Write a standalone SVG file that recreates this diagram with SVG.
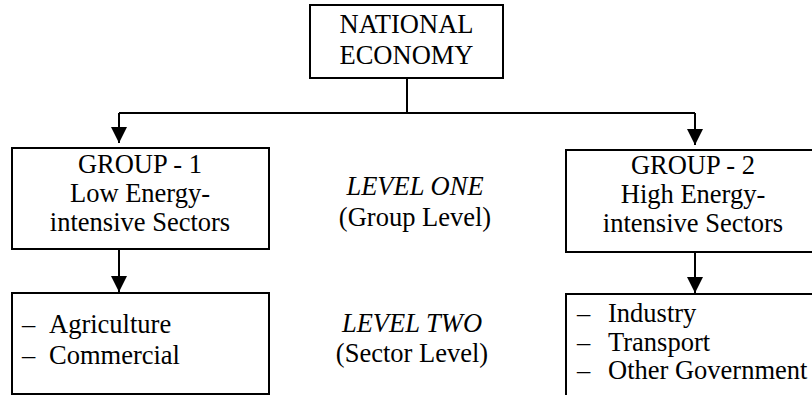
<svg xmlns="http://www.w3.org/2000/svg" width="812" height="395" viewBox="0 0 812 395">
<style>
.box{fill:#fff;stroke:#000;stroke-width:2}
.t{font-family:"Liberation Serif","Times New Roman",serif;font-size:26.5px;fill:#000}
.c{text-anchor:middle}
.i{font-style:italic}
.ln{stroke:#000;stroke-width:2;fill:none}
</style>
<defs>
<marker id="ah" viewBox="0 0 16 16" refX="16" refY="8" markerWidth="16" markerHeight="16" markerUnits="userSpaceOnUse" orient="auto">
<path d="M0,0 L16,8 L0,16 Z" fill="#000"/>
</marker>
</defs>
<rect width="812" height="395" fill="#fff"/>
<g id="connectors">
<path class="ln" d="M407,78 V113"/>
<path class="ln" d="M119,113 H695"/>
<path class="ln" d="M119,113 V143" marker-end="url(#ah)"/>
<path class="ln" d="M695,113 V145" marker-end="url(#ah)"/>
<path class="ln" d="M119,249 V292" marker-end="url(#ah)"/>
<path class="ln" d="M695,252 V293" marker-end="url(#ah)"/>
</g>
<g id="national">
<rect class="box" x="310" y="5" width="193" height="73"/>
<text class="t c" x="406.5" y="33">NATIONAL</text>
<text class="t c" x="406.5" y="64">ECONOMY</text>
</g>
<g id="group1">
<rect class="box" x="12" y="148" width="257" height="101"/>
<text class="t c" x="140" y="173">GROUP - 1</text>
<text class="t c" x="140" y="202">Low Energy-</text>
<text class="t c" x="140" y="231">intensive Sectors</text>
</g>
<g id="group2">
<rect class="box" x="566" y="150" width="254" height="102"/>
<text class="t c" x="693" y="174">GROUP - 2</text>
<text class="t c" x="693" y="203">High Energy-</text>
<text class="t c" x="693" y="232">intensive Sectors</text>
</g>
<g id="level-one">
<text class="t c i" x="415" y="195">LEVEL ONE</text>
<text class="t c" x="415" y="226">(Group Level)</text>
</g>
<g id="level-two">
<text class="t c i" x="412" y="332">LEVEL TWO</text>
<text class="t c" x="412" y="362">(Sector Level)</text>
</g>
<g id="sectors-low">
<rect class="box" x="12" y="293" width="257" height="101"/>
<text class="t" x="22" y="333">–</text>
<text class="t" x="49" y="333">Agriculture</text>
<text class="t" x="22" y="364">–</text>
<text class="t" x="49" y="364">Commercial</text>
</g>
<g id="sectors-high">
<rect class="box" x="566" y="294" width="254" height="110"/>
<text class="t" x="577" y="322">–</text>
<text class="t" x="608" y="322">Industry</text>
<text class="t" x="577" y="351">–</text>
<text class="t" x="608" y="351">Transport</text>
<text class="t" x="577" y="379">–</text>
<text class="t" x="608" y="379">Other Government</text>
</g>
</svg>
